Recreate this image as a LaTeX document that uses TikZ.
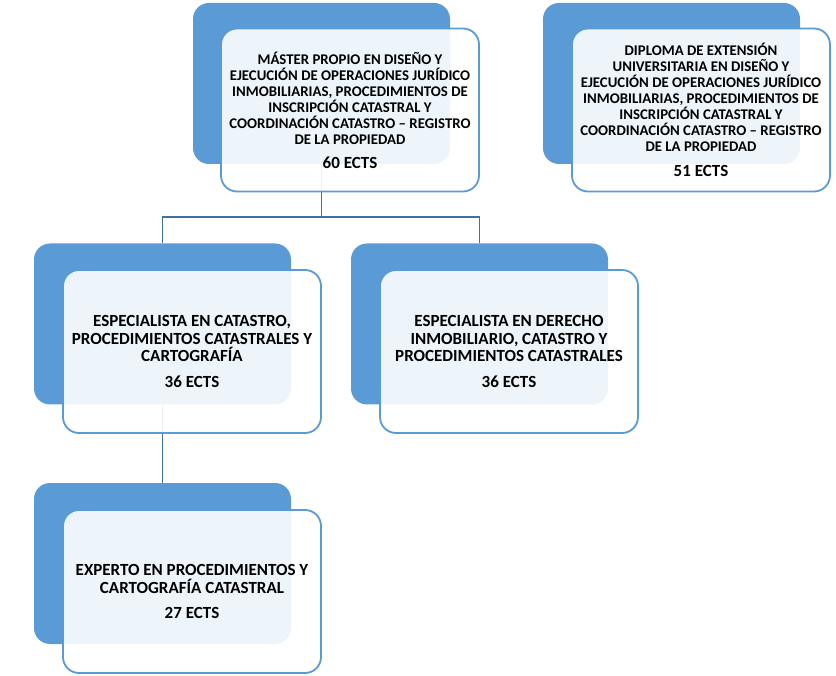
\documentclass[tikz,border=0pt]{standalone}
\usepackage{fontspec}
\setmainfont{Carlito}
\usetikzlibrary{positioning}
\definecolor{officeblue}{HTML}{5B9BD5}
\definecolor{linkblue}{HTML}{41719C}

\begin{document}
\begin{tikzpicture}[x=1pt,y=-1pt,
	backbox/.style={rectangle,rounded corners=16pt,fill=officeblue,inner sep=0pt,minimum width=257pt,minimum height=161pt},
	frontbox/.style={rectangle,rounded corners=16pt,draw=officeblue,line width=1.8pt,fill=white,fill opacity=0.9,text opacity=1,inner sep=0pt,minimum width=258pt,minimum height=163pt,align=center},
	smalltext/.style={font=\fontsize{14.8}{16}\selectfont\bfseries},
	bigtext/.style={font=\fontsize{17}{17.5}\selectfont\bfseries},
	link/.style={draw=linkblue,line width=1.6pt}]
			\useasboundingbox (0,0) rectangle (836,676);
			% blue back boxes
			\node[backbox]  at (321.5,83.5)  (mback)  {};
			\node[backbox]  at (671.5,83.5)  (dback)  {};
			\node[backbox]  at (162.5,324)   (cback)  {};
			\node[backbox]  at (479.5,324)   (iback)  {};
			\node[backbox]  at (162.5,563.5) (eback)  {};
			% connectors
			\coordinate (split) at (321.5,217);
			\draw[link] (mback) -- (split);
			\draw[link] (split) -| (cback.north);
			\draw[link] (split) -| (iback.north);
			\draw[link] (cback.south) -- (eback.north);
			% white front boxes
			\node[frontbox,smalltext]  at (350,110)   (master)  {MÁSTER PROPIO EN DISEÑO Y\\EJECUCIÓN DE OPERACIONES JURÍDICO\\INMOBILIARIAS, PROCEDIMIENTOS DE\\INSCRIPCIÓN CATASTRAL Y\\COORDINACIÓN CATASTRO – REGISTRO\\DE LA PROPIEDAD\\[8pt]{\fontsize{17}{16}\selectfont 60 ECTS}};
			\node[frontbox,smalltext]  at (701,110)   (diploma) {DIPLOMA DE EXTENSIÓN\\UNIVERSITARIA EN DISEÑO Y\\EJECUCIÓN DE OPERACIONES JURÍDICO\\INMOBILIARIAS, PROCEDIMIENTOS DE\\INSCRIPCIÓN CATASTRAL Y\\COORDINACIÓN CATASTRO – REGISTRO\\DE LA PROPIEDAD\\[8.5pt]{\fontsize{17}{16}\selectfont 51 ECTS}};
			\node[frontbox,bigtext]  at (192,351.5) (catastro) {ESPECIALISTA EN CATASTRO,\\PROCEDIMIENTOS CATASTRALES Y\\CARTOGRAFÍA\\[8.5pt]36 ECTS};
			\node[frontbox,bigtext]  at (509,351.5) (derecho)  {ESPECIALISTA EN DERECHO\\INMOBILIARIO, CATASTRO Y\\PROCEDIMIENTOS CATASTRALES\\[8.5pt]36 ECTS};
			\node[frontbox,bigtext]  at (192,591.5) (experto)  {EXPERTO EN PROCEDIMIENTOS Y\\CARTOGRAFÍA CATASTRAL\\[8pt]27 ECTS};
		\end{tikzpicture}
\end{document}
